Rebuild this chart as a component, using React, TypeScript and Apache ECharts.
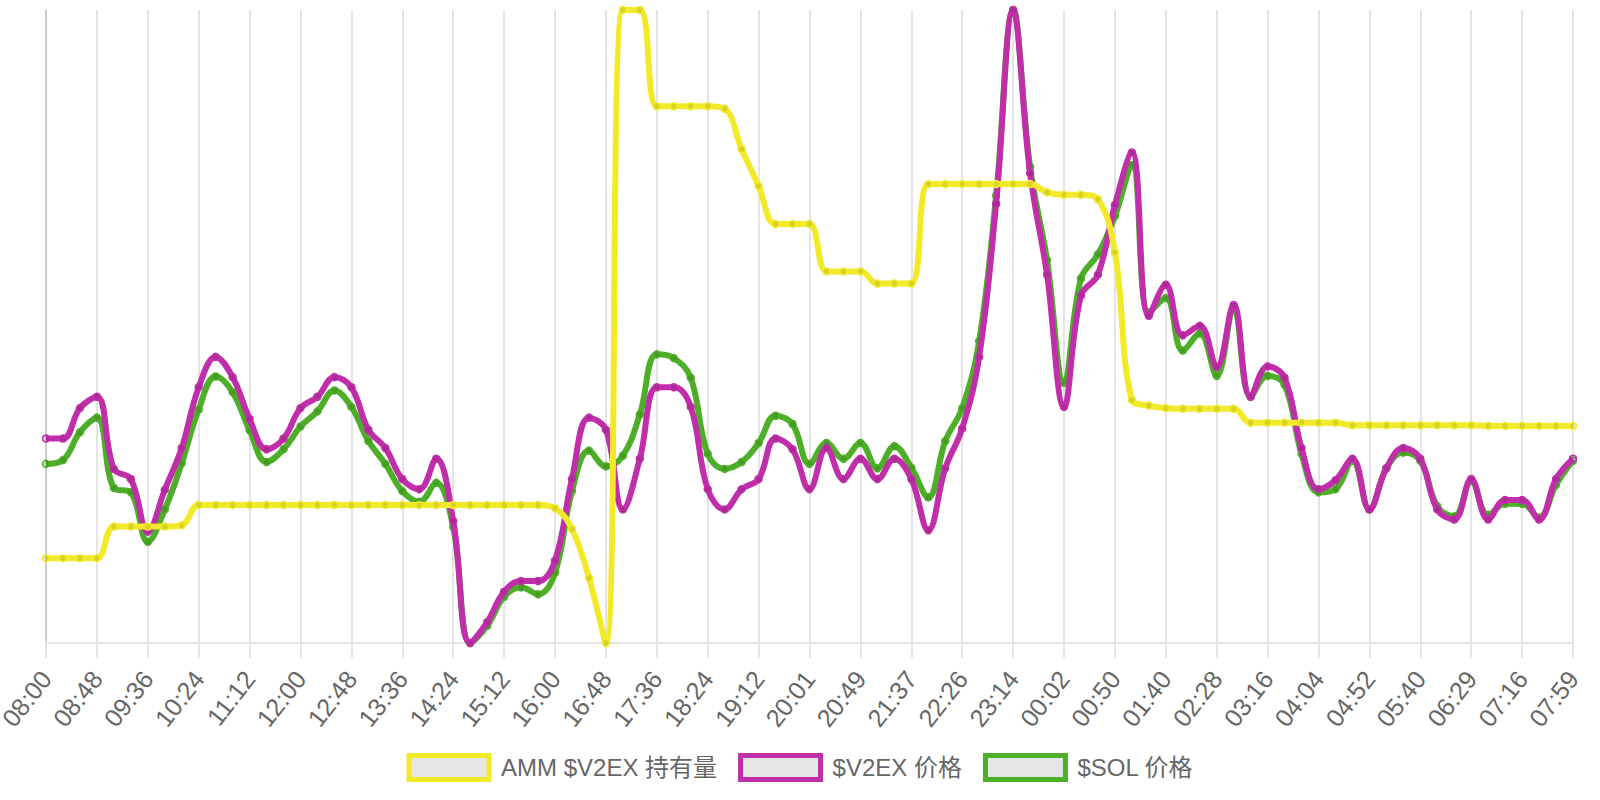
import React, { useEffect, useRef } from "react";
import * as echarts from "echarts";

// Tick labels (every 3rd sample, 16-minute sampling)
const tickLabels = [
  "08:00", "08:48", "09:36", "10:24", "11:12", "12:00", "12:48", "13:36", "14:24", "15:12",
  "16:00", "16:48", "17:36", "18:24", "19:12", "20:01", "20:49", "21:37", "22:26", "23:14",
  "00:02", "00:50", "01:40", "02:28", "03:16", "04:04", "04:52", "05:40", "06:29", "07:16", "07:59",
];

const seriesNames = ["AMM $V2EX 持有量", "$V2EX 价格", "$SOL 价格"];
const seriesColors = ["#f2ea29", "#c12ea9", "#4dae27"];

// Values are relative (each series normalised to its own hidden axis, 0 = min, 100 = max)
const ammHoldings = [
  13.4, 13.4, 13.4, 13.4, 18.4, 18.4, 18.4, 18.4, 18.6, 21.8,
  21.8, 21.8, 21.8, 21.8, 21.8, 21.8, 21.8, 21.8, 21.8, 21.8,
  21.8, 21.8, 21.8, 21.8, 21.8, 21.8, 21.8, 21.8, 21.8, 21.8,
  21.3, 18.0, 10.3, 0, 100, 100, 84.8, 84.8, 84.8, 84.8,
  84.4, 78.0, 72.2, 66.2, 66.2, 66.2, 58.7, 58.7, 58.7, 56.8,
  56.8, 56.8, 72.5, 72.5, 72.5, 72.5, 72.5, 72.5, 72.5, 71.2,
  70.8, 70.8, 70.1, 61.7, 38.4, 37.5, 37.1, 37.0, 37.0, 37.0,
  37.0, 34.8, 34.8, 34.8, 34.8, 34.8, 34.8, 34.4, 34.4, 34.4,
  34.4, 34.4, 34.4, 34.4, 34.4, 34.3, 34.3, 34.3, 34.3, 34.3,
  34.3,
];

const v2exPrice = [
  32.3, 32.3, 37.1, 38.9, 27.5, 25.9, 17.6, 24.2, 30.8, 40.4,
  45.2, 42.0, 35.4, 30.6, 32.3, 37.1, 38.9, 42.0, 40.4, 33.7,
  30.8, 25.9, 24.3, 29.1, 19.3, 0, 3.3, 8.1, 9.8, 9.8,
  13.0, 25.9, 35.6, 33.7, 21.1, 29.1, 40.4, 40.4, 37.3, 24.3,
  21.1, 24.3, 25.9, 32.3, 30.6, 24.3, 30.8, 25.9, 29.1, 25.9,
  29.1, 25.9, 17.8, 27.6, 33.9, 45.2, 69.4, 100, 74.2, 58.2,
  37.3, 54.9, 58.2, 69.2, 77.5, 51.7, 56.6, 48.6, 50.1, 43.6,
  53.4, 38.9, 43.7, 41.9, 30.8, 24.3, 25.7, 29.1, 21.1, 27.6,
  30.8, 29.1, 21.1, 19.5, 25.9, 19.5, 22.6, 22.6, 19.5, 25.9,
  29.1,
];

const solPrice = [
  28.3, 28.9, 33.3, 35.6, 24.5, 23.8, 16.0, 21.1, 28.4, 36.9,
  42.1, 39.6, 33.6, 28.6, 30.6, 34.2, 36.6, 39.9, 37.3, 31.9,
  28.3, 24.0, 22.3, 25.3, 18.3, 0, 2.7, 7.3, 8.8, 7.7,
  11.1, 24.0, 30.4, 27.9, 29.6, 36.1, 45.6, 45.0, 41.9, 29.9,
  27.5, 28.6, 31.6, 35.9, 34.6, 28.3, 31.6, 29.1, 31.6, 27.6,
  31.1, 27.7, 23.0, 31.9, 37.1, 47.7, 70.7, 100, 75.2, 60.5,
  41.1, 57.6, 61.4, 67.4, 75.5, 52.2, 54.5, 46.2, 48.9, 42.2,
  53.0, 38.9, 42.2, 40.8, 29.9, 23.8, 24.3, 28.8, 21.1, 27.6,
  30.1, 28.8, 21.6, 20.0, 25.6, 20.2, 22.0, 22.0, 19.8, 25.0,
  28.8,
];

const seriesValues = [ammHoldings, v2exPrice, solPrice];
const FONT = "'Liberation Sans', Arial, 'Noto Sans CJK SC', sans-serif";

export default function App() {
  const ref = useRef<HTMLDivElement>(null);

  useEffect(() => {
    if (!ref.current) return;
    const chart = echarts.init(ref.current, undefined, { renderer: "svg" });
    const lastIndex = (tickLabels.length - 1) * 3;

    const series = seriesValues.map((vals, k) => ({
      name: seriesNames[k],
      type: "line",
      data: vals.map((v, i) => [i, v]),
      smooth: 0.4,
      z: 5 - k,
      symbol: "circle",
      symbolSize: 7,
      showSymbol: true,
      showAllSymbol: true,
      lineStyle: { color: seriesColors[k], width: 6 },
      itemStyle: { color: "rgba(0,0,0,0.1)", borderColor: seriesColors[k], borderWidth: 1.5 },
      emphasis: { disabled: true },
    }));

    chart.setOption({
      animation: false,
      textStyle: { fontFamily: FONT },
      grid: { left: 46, right: 27, top: 10, bottom: 157, containLabel: false, outerBoundsMode: "none" },
      legend: {
        left: "center",
        top: 748,
        itemWidth: 80,
        itemHeight: 24,
        itemGap: 21,
        textStyle: { fontSize: 24, color: "#666666", fontFamily: FONT, padding: [0, 0, 0, 7] },
        data: seriesNames.map((n, k) => ({
          name: n,
          icon: "rect",
          itemStyle: { color: "#e6e6e6", borderColor: seriesColors[k], borderWidth: 5 },
        })),
        selectedMode: false,
      },
      xAxis: {
        type: "value",
        min: 0,
        max: lastIndex,
        interval: 3,
        axisLine: { show: true, onZero: false, lineStyle: { color: "#e4e4e4", width: 2 } },
        axisTick: { show: true, length: 15, lineStyle: { color: "#e4e4e4", width: 2 } },
        splitLine: { show: true, lineStyle: { color: "#e4e4e4", width: 2 } },
        axisLabel: {
          rotate: 52,
          margin: 31,
          fontSize: 25,
          lineHeight: 18,
          color: "#666666",
          fontFamily: FONT,
          showMinLabel: true,
          showMaxLabel: true,
          formatter: (v: number) => tickLabels[Math.round(v / 3)] ?? "",
        },
      },
      yAxis: {
        type: "value",
        min: 0,
        max: 100,
        axisLine: { show: true, lineStyle: { color: "#cccccc", width: 2 } },
        axisTick: { show: false },
        axisLabel: { show: false },
        splitLine: { show: false },
      },
      series,
    });

    return () => chart.dispose();
  }, []);

  return (
    <div
      ref={ref}
      style={{ position: "fixed", left: 0, top: 0, width: 1600, height: 800, background: "#ffffff" }}
    />
  );
}
